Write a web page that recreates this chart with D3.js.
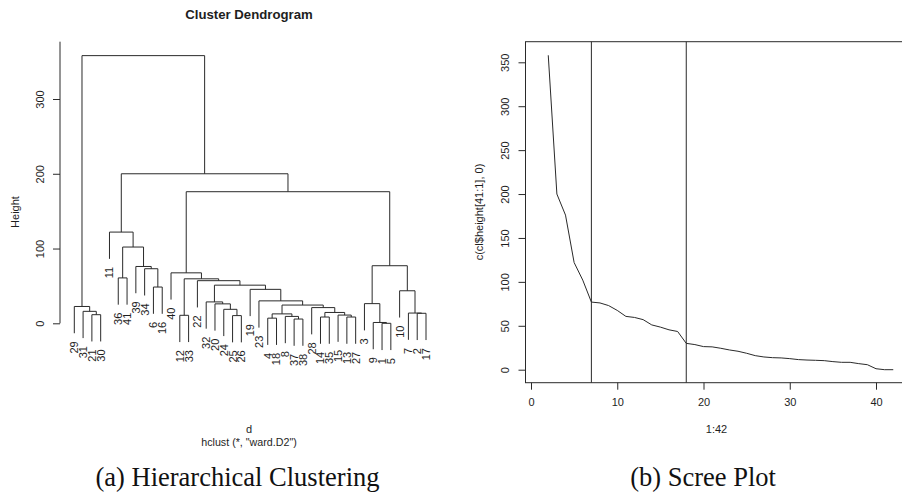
<!DOCTYPE html>
<html>
<head>
<meta charset="utf-8">
<script src="https://cdn.jsdelivr.net/npm/d3@7/dist/d3.min.js"></script>
<style>
  body { margin: 0; background: #fff; }
  svg text { font-family: "Liberation Sans", Arial, sans-serif; fill: #1e1e1e; }
  .caption { font-family: "Liberation Serif", "Times New Roman", serif; fill: #111; }
</style>
</head>
<body>
<svg id="fig" width="902" height="493"></svg>
<script>
// hclust merge table (R style): negative = observation, positive = earlier merge
var mergeLeft  = [-1, -9, -37, -4, -14, -13, -8, -25, -12, -15, -21, 4, -2, -7, 5, -31, -24, -28, -29, 12,
                  -20, -3, -32, -23, -10, -19, -6, 23, -22, 9, -36, -40, -34, -39, 22, 31, -11, 32, 37, 19];
var mergeRight = [-5, 1, -38, -18, -35, -27, 3, -26, -33, 6, -30, 7, -17, 13, 10, 11, 8, 15, 16, 18,
                  17, 2, 21, 20, 14, 24, -16, 26, 28, 29, -41, 30, 27, 33, 25, 34, 36, 35, 38, 39];
var mergeHeight = [0, 1.1, 5.7, 6.9, 8.4, 8.4, 9.2, 10.3, 10.7, 11, 11.5, 12.6, 13.4, 13.7, 14.5, 16, 18.7, 21, 22.5, 24.4,
                   26, 26.3, 28.6, 30, 43.5, 45.4, 48.5, 51, 57, 59.5, 60.7, 67.5, 73, 76, 77, 102, 122, 176, 200, 358];

// axis ticks
var dendroTicks = [0, 100, 200, 300];
var screeYTicks = [0, 50, 100, 150, 200, 250, 300, 350];
var screeXTicks = [0, 10, 20, 30, 40];
var cutLines = [7, 18];

var svg = d3.select("#fig");
var ink = "#2a2a2a";

// ---------------- (a) dendrogram ----------------
var nLeaves = mergeHeight.length + 1;
var hang = 0.1 * (d3.max(mergeHeight) - d3.min(mergeHeight));

function buildNode(ref) {
  if (ref < 0) return { name: String(-ref) };
  return {
    height: mergeHeight[ref - 1],
    children: [buildNode(mergeLeft[ref - 1]), buildNode(mergeRight[ref - 1])]
  };
}

var root = d3.hierarchy(buildNode(mergeHeight.length));

// leaf order comes from the merge tree, inner nodes sit at the midpoint of their children
root.leaves().forEach(function(d, i) { d.pos = i + 1; });
root.eachAfter(function(d) {
  if (d.children) {
    d.pos = (d.children[0].pos + d.children[1].pos) / 2;
    d.h = d.data.height;
  }
});
root.leaves().forEach(function(d) { d.h = d.parent.data.height - hang; });

var dx = d3.scaleLinear().domain([1, nLeaves]).range([74.3, 426]);
var dy = d3.scaleLinear().domain([0, 300]).range([323.3, 99]);

var dendro = svg.append("g");

dendro.append("text")
  .attr("x", 249).attr("y", 18.5)
  .attr("text-anchor", "middle")
  .style("font-weight", "bold")
  .style("font-size", "13.2px")
  .text("Cluster Dendrogram");

// branches
dendro.append("g")
  .selectAll("path")
  .data(root.descendants().filter(function(d) { return d.children; }))
  .enter()
  .append("path")
  .attr("fill", "none")
  .attr("stroke", ink)
  .attr("stroke-width", 1)
  .attr("d", function(d) {
    var a = d.children[0], b = d.children[1];
    return "M" + dx(a.pos) + "," + dy(a.h) +
           "V" + dy(d.h) + "H" + dx(b.pos) + "V" + dy(b.h);
  });

// leaf labels
dendro.append("g")
  .selectAll("text")
  .data(root.leaves())
  .enter()
  .append("text")
  .attr("transform", function(d) { return "translate(" + dx(d.pos) + "," + (dy(d.h) + 8) + ") rotate(-90)"; })
  .attr("text-anchor", "end")
  .attr("dy", "0.36em")
  .style("font-size", "11px")
  .text(function(d) { return d.data.name; });

// y axis
var dAxis = dendro.append("g")
  .attr("transform", "translate(60,0)")
  .call(d3.axisLeft(dy).tickValues(dendroTicks).tickSize(7).tickSizeOuter(0));
dAxis.select(".domain").remove();
dAxis.selectAll("line").attr("stroke", ink);
dAxis.selectAll("text")
  .attr("transform", "rotate(-90)")
  .attr("x", 0).attr("y", -16).attr("dy", 0)
  .attr("text-anchor", "middle")
  .style("font-size", "11px")
  .style("fill", "#1e1e1e");
dendro.append("line")
  .attr("x1", 60).attr("x2", 60)
  .attr("y1", dy(0)).attr("y2", 41.7)
  .attr("stroke", ink);

dendro.append("text")
  .attr("transform", "translate(18.5,212) rotate(-90)")
  .attr("text-anchor", "middle")
  .style("font-size", "11px")
  .text("Height");

dendro.append("text")
  .attr("x", 249).attr("y", 433.3)
  .attr("text-anchor", "middle")
  .style("font-size", "11px")
  .text("d");
dendro.append("text")
  .attr("x", 249).attr("y", 446)
  .attr("text-anchor", "middle")
  .style("font-size", "10.7px")
  .text("hclust (*, \"ward.D2\")");

svg.append("text")
  .attr("class", "caption")
  .attr("x", 237.5).attr("y", 486)
  .attr("text-anchor", "middle")
  .style("font-size", "26.5px")
  .text("(a) Hierarchical Clustering");

// ---------------- (b) scree plot ----------------
// c(cl$height[41:1], 0): first entry is NA, then heights descending, then 0
var screeValues = [null].concat(mergeHeight.slice().reverse(), [0]);
var screeData = screeValues.map(function(v, i) { return { x: i + 1, y: v }; });

var sx = d3.scaleLinear().domain([0, 40]).range([531, 876]);
var sy = d3.scaleLinear().domain([0, 350]).range([369.7, 62.3]);

var boxLeft = 525.5, boxTop = 41.7, boxBottom = 382.7, boxRight = 908;
var scree = svg.append("g");

scree.append("rect")
  .attr("x", boxLeft).attr("y", boxTop)
  .attr("width", boxRight - boxLeft).attr("height", boxBottom - boxTop)
  .attr("fill", "none")
  .attr("stroke", ink);

scree.append("path")
  .datum(screeData)
  .attr("fill", "none")
  .attr("stroke", ink)
  .attr("stroke-width", 1)
  .attr("d", d3.line()
    .defined(function(d) { return d.y !== null; })
    .x(function(d) { return sx(d.x); })
    .y(function(d) { return sy(d.y); }));

scree.selectAll(".cut")
  .data(cutLines)
  .enter()
  .append("line")
  .attr("class", "cut")
  .attr("x1", function(d) { return sx(d); })
  .attr("x2", function(d) { return sx(d); })
  .attr("y1", boxTop).attr("y2", boxBottom)
  .attr("stroke", ink);

var syAxis = scree.append("g")
  .attr("transform", "translate(" + boxLeft + ",0)")
  .call(d3.axisLeft(sy).tickValues(screeYTicks).tickSize(7).tickSizeOuter(0));
syAxis.select(".domain").remove();
syAxis.selectAll("line").attr("stroke", ink);
syAxis.selectAll("text")
  .attr("transform", "rotate(-90)")
  .attr("x", 0).attr("y", -16.5).attr("dy", 0)
  .attr("text-anchor", "middle")
  .style("font-size", "11px")
  .style("fill", "#1e1e1e");

var sxAxis = scree.append("g")
  .attr("transform", "translate(0," + boxBottom + ")")
  .call(d3.axisBottom(sx).tickValues(screeXTicks).tickSize(7).tickSizeOuter(0));
sxAxis.select(".domain").remove();
sxAxis.selectAll("line").attr("stroke", ink);
sxAxis.selectAll("text")
  .attr("y", 16)
  .style("font-size", "11px")
  .style("fill", "#1e1e1e");

scree.append("text")
  .attr("transform", "translate(483,212) rotate(-90)")
  .attr("text-anchor", "middle")
  .style("font-size", "11px")
  .text("c(cl$height[41:1], 0)");

scree.append("text")
  .attr("x", 716.5).attr("y", 433.3)
  .attr("text-anchor", "middle")
  .style("font-size", "11px")
  .text("1:42");

svg.append("text")
  .attr("class", "caption")
  .attr("x", 703).attr("y", 486)
  .attr("text-anchor", "middle")
  .style("font-size", "26.5px")
  .text("(b) Scree Plot");
</script>
</body>
</html>
